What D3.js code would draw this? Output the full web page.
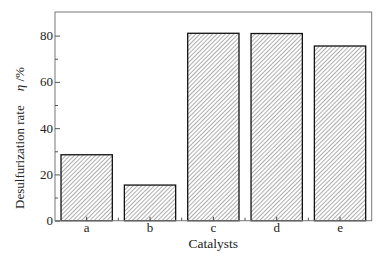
<!DOCTYPE html>
<html>
<head>
<meta charset="utf-8">
<script src="https://cdn.jsdelivr.net/npm/d3@7"></script>
<style>
  body { margin: 0; background: #fff; }
  text { font-family: "Liberation Serif", "Times New Roman", serif; }
</style>
</head>
<body>
<svg id="chart" width="390" height="261"></svg>
<script>
// chart data
const catalysts = ["a", "b", "c", "d", "e"];
const rates = [28.5, 15.4, 81.0, 80.9, 75.5];
const yTicks = [0, 20, 40, 60, 80];
const yMinor = [10, 30, 50, 70];

const svg = d3.select("#chart");
const margin = { left: 55, right: 18.3, top: 12, bottom: 40.3 };
const width = 390, height = 261;

const x = d3.scaleBand()
    .domain(catalysts)
    .range([margin.left, width - margin.right])
    .paddingInner(0.19)
    .paddingOuter(0.095);

const y = d3.scaleLinear()
    .domain([0, 90.2])
    .range([height - margin.bottom, margin.top]);

// hatch pattern for the bars
const defs = svg.append("defs");
const pat = defs.append("pattern")
    .attr("id", "hatch")
    .attr("patternUnits", "userSpaceOnUse")
    .attr("width", 3)
    .attr("height", 3)
    .attr("patternTransform", "rotate(45)");
pat.append("rect").attr("width", 3).attr("height", 3).attr("fill", "#fff");
pat.append("line")
    .attr("x1", 0).attr("y1", 0).attr("x2", 0).attr("y2", 3)
    .attr("stroke", "#333").attr("stroke-width", 0.8);

// bars
svg.append("g").selectAll("rect")
    .data(catalysts)
    .join("rect")
    .attr("x", d => x(d))
    .attr("y", (d, i) => y(rates[i]))
    .attr("width", x.bandwidth())
    .attr("height", (d, i) => y(0) - y(rates[i]))
    .attr("fill", "url(#hatch)")
    .attr("stroke", "#111")
    .attr("stroke-width", 1.3);

// frame
svg.append("rect")
    .attr("x", margin.left)
    .attr("y", margin.top)
    .attr("width", width - margin.left - margin.right)
    .attr("height", height - margin.top - margin.bottom)
    .attr("fill", "none")
    .attr("stroke", "#777")
    .attr("stroke-width", 1);

// left axis, ticks pointing inward
const yAxis = svg.append("g")
    .attr("transform", `translate(${margin.left},0)`)
    .call(d3.axisRight(y).tickValues(yTicks).tickSize(5).tickFormat(""));
yAxis.select(".domain").remove();
yAxis.selectAll("line").attr("stroke", "#555");

const yAxisMinor = svg.append("g")
    .attr("transform", `translate(${margin.left},0)`)
    .call(d3.axisRight(y).tickValues(yMinor).tickSize(3).tickFormat(""));
yAxisMinor.select(".domain").remove();
yAxisMinor.selectAll("line").attr("stroke", "#555");

svg.append("g").selectAll("text")
    .data(yTicks)
    .join("text")
    .attr("x", margin.left - 2)
    .attr("y", d => y(d))
    .attr("dy", "0.35em")
    .attr("text-anchor", "end")
    .attr("font-size", 13)
    .attr("fill", "#222")
    .text(d => d);

// bottom axis
const xAxis = svg.append("g")
    .attr("transform", `translate(0,${y(0)})`)
    .call(d3.axisTop(x).tickSize(4).tickFormat(""));
xAxis.select(".domain").remove();
xAxis.selectAll("line").attr("stroke", "#444");

// small ticks between the bars
const boundaries = catalysts.slice(1).map(d => x(d) - x.step() * x.paddingInner() / 2);
svg.append("g").selectAll("line")
    .data(boundaries)
    .join("line")
    .attr("x1", d => d).attr("x2", d => d)
    .attr("y1", y(0)).attr("y2", y(0) - 3)
    .attr("stroke", "#555");

svg.append("g").selectAll("text")
    .data(catalysts)
    .join("text")
    .attr("x", d => x(d) + x.bandwidth() / 2)
    .attr("y", 232)
    .attr("text-anchor", "middle")
    .attr("font-size", 13)
    .attr("fill", "#222")
    .text(d => d);

// axis titles
svg.append("text")
    .attr("x", (margin.left + width - margin.right) / 2)
    .attr("y", 248)
    .attr("text-anchor", "middle")
    .attr("font-size", 13.5)
    .attr("fill", "#222")
    .text("Catalysts");

const yTitle = svg.append("text")
    .attr("transform", "translate(24,138) rotate(-90)")
    .attr("text-anchor", "middle")
    .attr("font-size", 13)
    .attr("fill", "#222");
yTitle.append("tspan").text("Desulfurization rate");
yTitle.append("tspan").attr("dx", 14).attr("font-style", "italic").text("η");
yTitle.append("tspan").text(" /%");
</script>
</body>
</html>
